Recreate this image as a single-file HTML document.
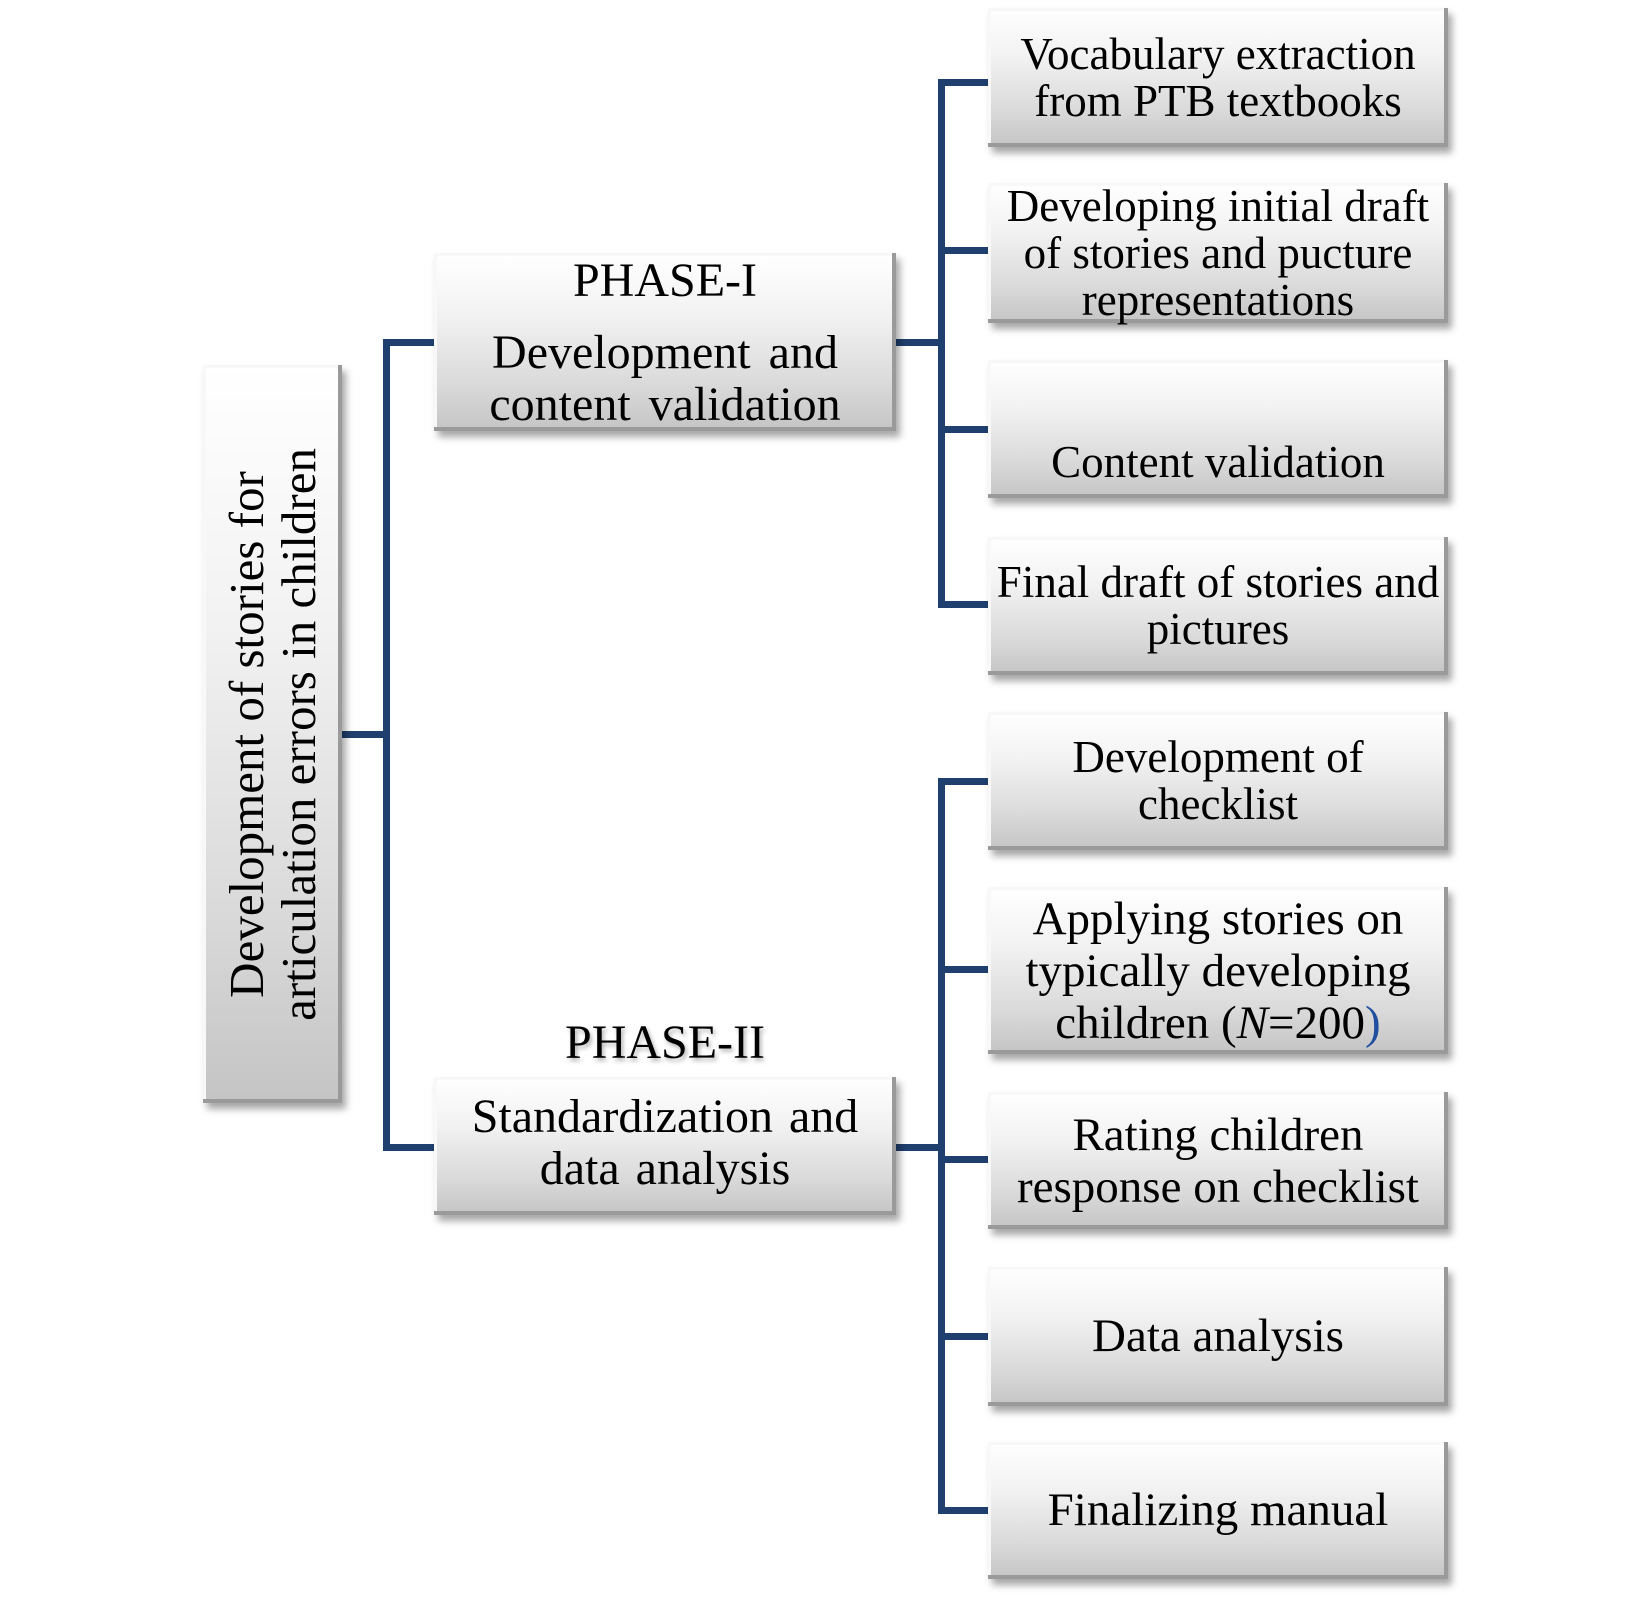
<!DOCTYPE html>
<html><head><meta charset="utf-8"><style>
body{margin:0;width:1650px;height:1607px;background:#fff;position:relative;overflow:hidden;font-family:"Liberation Serif",serif;color:#000}
.b{position:absolute;box-sizing:border-box;background:linear-gradient(#ffffff 0%,#f2f2f2 35%,#d9d9d9 75%,#c4c4c4 100%);
box-shadow:inset -4px -4px 0 #9a9a9a,inset 3px 3px 0 #f8f8f8,4px 6px 7px rgba(0,0,0,.35);
display:flex;flex-direction:column;align-items:center;justify-content:center;text-align:center;font-size:45px;line-height:47px;white-space:nowrap}
.l{position:absolute;background:#1f3f6e}
</style></head><body>
<div class="l" style="left:342px;top:731px;width:47px;height:7px"></div>
<div class="l" style="left:383px;top:339px;width:7px;height:812px"></div>
<div class="l" style="left:383px;top:339px;width:52px;height:7px"></div>
<div class="l" style="left:383px;top:1144px;width:52px;height:7px"></div>
<div class="l" style="left:896px;top:339px;width:46px;height:7px"></div>
<div class="l" style="left:896px;top:1144px;width:46px;height:7px"></div>
<div class="l" style="left:938px;top:79px;width:7px;height:529px"></div>
<div class="l" style="left:938px;top:778px;width:7px;height:736px"></div>
<div class="l" style="left:938px;top:79px;width:50px;height:7px"></div>
<div class="l" style="left:938px;top:247px;width:50px;height:7px"></div>
<div class="l" style="left:938px;top:426px;width:50px;height:7px"></div>
<div class="l" style="left:938px;top:601px;width:50px;height:7px"></div>
<div class="l" style="left:938px;top:778px;width:50px;height:7px"></div>
<div class="l" style="left:938px;top:966px;width:50px;height:7px"></div>
<div class="l" style="left:938px;top:1156px;width:50px;height:7px"></div>
<div class="l" style="left:938px;top:1333px;width:50px;height:7px"></div>
<div class="l" style="left:938px;top:1507px;width:50px;height:7px"></div>

<div class="b" style="left:203px;top:365px;width:139px;height:738px;font-size:49px;line-height:52px">
<div style="writing-mode:vertical-rl;transform:rotate(180deg);white-space:nowrap">Development of stories for<br>articulation errors in children</div></div>

<div class="b" style="left:434px;top:253px;width:462px;height:178px;justify-content:flex-start;font-size:48px;line-height:52px;padding-top:2px">
<div>PHASE-I</div><div style="margin-top:20px;word-spacing:6px">Development and<br>content validation</div></div>
<div style="position:absolute;left:434px;top:1017px;width:462px;text-align:center;font-size:48px;line-height:52px;text-shadow:2px 3px 4px rgba(0,0,0,.3)">PHASE-II</div>
<div class="b" style="left:434px;top:1077px;width:462px;height:138px;font-size:48px;line-height:52px;padding-bottom:6px">
<div style="word-spacing:4px">Standardization and<br>data analysis</div></div>

<div class="b" style="left:988px;top:8px;width:460px;height:139px">Vocabulary extraction<br>from PTB textbooks</div>
<div class="b" style="left:988px;top:183px;width:460px;height:140px">Developing initial draft<br>of stories and pucture<br>representations</div>
<div class="b" style="left:988px;top:360px;width:460px;height:138px;justify-content:flex-end;padding-bottom:12px">Content validation</div>
<div class="b" style="left:988px;top:537px;width:460px;height:138px">Final draft of stories and<br>pictures</div>
<div class="b" style="left:988px;top:712px;width:460px;height:138px">Development of<br>checklist</div>
<div class="b" style="left:988px;top:887px;width:460px;height:167px;font-size:47px;line-height:52px">Applying stories on<br>typically developing<br><span>children (<i>N</i>=200<span style="color:#1f4f9e">)</span></span></div>
<div class="b" style="left:988px;top:1092px;width:460px;height:137px;font-size:47px;line-height:52px">Rating children<br>response on checklist</div>
<div class="b" style="left:988px;top:1267px;width:460px;height:139px;font-size:47px">Data analysis</div>
<div class="b" style="left:988px;top:1442px;width:460px;height:137px;font-size:47px">Finalizing manual</div>
</body></html>
